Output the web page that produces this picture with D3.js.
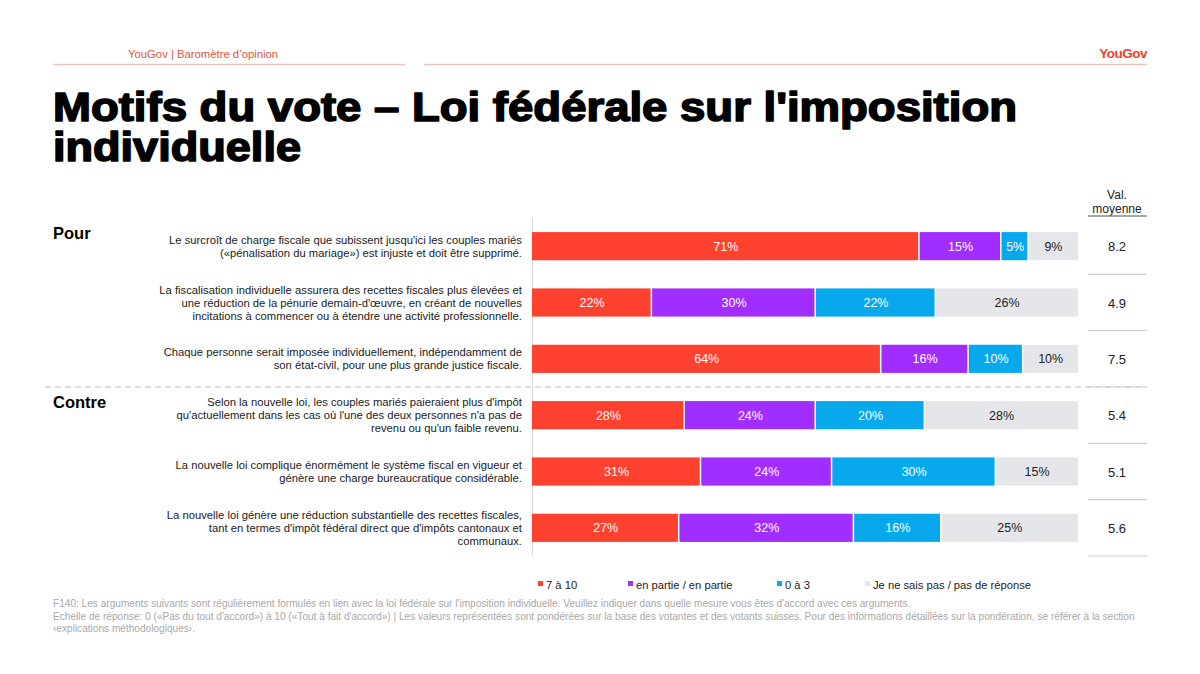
<!DOCTYPE html>
<html>
<head>
<meta charset="utf-8">
<script src="https://cdn.jsdelivr.net/npm/d3@7"></script>
<style>
  body { margin: 0; background: #fff; }
  svg { font-family: Arial, "Liberation Sans", sans-serif; }
</style>
</head>
<body>
<svg id="chart" width="1200" height="674"></svg>
<script>
const categories = [
  ['Le surcroît de charge fiscale que subissent jusqu\'ici les couples mariés', '(«pénalisation du mariage») est injuste et doit être supprimé.'],
  ['La fiscalisation individuelle assurera des recettes fiscales plus élevées et', 'une réduction de la pénurie demain-d\'œuvre, en créant de nouvelles', 'incitations à commencer ou à étendre une activité professionnelle.'],
  ['Chaque personne serait imposée individuellement, indépendamment de', 'son état-civil, pour une plus grande justice fiscale.'],
  ['Selon la nouvelle loi, les couples mariés paieraient plus d\'impôt', 'qu\'actuellement dans les cas où l\'une des deux personnes n\'a pas de', 'revenu ou qu\'un faible revenu.'],
  ['La nouvelle loi complique énormément le système fiscal en vigueur et', 'génère une charge bureaucratique considérable.'],
  ['La nouvelle loi génère une réduction substantielle des recettes fiscales,', 'tant en termes d\'impôt fédéral direct que d\'impôts cantonaux et', 'communaux.']
];
const seriesNames = ['7 à 10', 'en partie / en partie', '0 à 3', 'Je ne sais pas / pas de réponse'];
const agree = [71, 22, 64, 28, 31, 27];
const partly = [15, 30, 16, 24, 24, 32];
const disagree = [5, 22, 10, 20, 30, 16];
const dontKnow = [9, 26, 10, 28, 15, 25];
const meanValues = ['8.2', '4.9', '7.5', '5.4', '5.1', '5.6'];
const groups = ['Pour', 'Contre'];

const COLORS = ['#ff412f', '#a12dff', '#08a8ec', '#e5e6e9'];
const TEXT_COLORS = ['#fff', '#fff', '#fff', '#222'];

const svg = d3.select('#chart');

// header
svg.append('text').attr('x', 128).attr('y', 58).attr('font-size', 11.3)
  .attr('fill', '#e0553f').text('YouGov | Baromètre d\u2019opinion');
svg.append('line').attr('x1', 53).attr('x2', 405).attr('y1', 64.5).attr('y2', 64.5)
  .attr('stroke', '#efc4bc').attr('stroke-width', 1.5);
svg.append('line').attr('x1', 424).attr('x2', 1147).attr('y1', 64.5).attr('y2', 64.5)
  .attr('stroke', '#efc4bc').attr('stroke-width', 1.5);
svg.append('text').attr('x', 1147).attr('y', 58).attr('text-anchor', 'end')
  .attr('font-size', 13.5).attr('font-weight', 'bold').attr('letter-spacing', -0.5)
  .attr('fill', '#f0402a').text('YouGov');

// title (heavy face approximated with stroke + stretched width)
const title = svg.append('text').attr('x', 52).attr('font-size', 40)
  .attr('font-weight', 'bold').attr('fill', '#000')
  .attr('stroke', '#000').attr('stroke-width', 1.6).attr('stroke-linejoin', 'round');
title.append('tspan').attr('x', 53).attr('y', 121)
  .attr('textLength', 964).attr('lengthAdjust', 'spacingAndGlyphs')
  .text('Motifs du vote – Loi fédérale sur l\'imposition');
title.append('tspan').attr('x', 53).attr('y', 161)
  .attr('textLength', 248).attr('lengthAdjust', 'spacingAndGlyphs')
  .text('individuelle');

// scales
const x = d3.scaleLinear().domain([0, 100]).range([532, 1078]);
const y = d3.scaleBand().domain(d3.range(categories.length)).range([218, 556]).paddingInner(0.5).paddingOuter(0.25);

const rows = categories.map((c, i) => {
  const vals = [agree[i], partly[i], disagree[i], dontKnow[i]];
  let acc = 0;
  return vals.map((v, k) => { const s = acc; acc += v; return { row: i, k, v, x0: s, x1: acc }; });
});

// axis line
svg.append('line').attr('x1', 532.5).attr('x2', 532.5).attr('y1', 218).attr('y2', 556)
  .attr('stroke', '#d9d9d9');

// bars
const rowG = svg.selectAll('g.row').data(rows).join('g').attr('class', 'row');
rowG.selectAll('rect').data(d => d).join('rect')
  .attr('x', d => x(d.x0))
  .attr('y', d => y(d.row))
  .attr('width', d => x(d.x1) - x(d.x0) - (d.k < 3 ? 1.5 : 0))
  .attr('height', y.bandwidth())
  .attr('fill', d => COLORS[d.k]);
rowG.selectAll('text').data(d => d).join('text')
  .attr('x', d => (x(d.x0) + x(d.x1)) / 2)
  .attr('y', d => y(d.row) + y.bandwidth() / 2 + 4.5)
  .attr('text-anchor', 'middle').attr('font-size', 12.5)
  .attr('fill', d => TEXT_COLORS[d.k])
  .text(d => d.v + '%');

// category labels
categories.forEach((lines, i) => {
  const cy = y(i) + y.bandwidth() / 2;
  const lh = 13;
  const t = svg.append('text').attr('text-anchor', 'end').attr('font-size', 11.25).attr('fill', '#222');
  lines.forEach((l, j) => {
    t.append('tspan').attr('x', 522)
      .attr('y', cy - (lines.length - 1) * lh / 2 + j * lh + 4).text(l);
  });
});

// group labels
svg.append('text').attr('x', 53).attr('y', 239).attr('font-size', 16.5)
  .attr('font-weight', 'bold').text(groups[0]);
svg.append('text').attr('x', 53).attr('y', 408).attr('font-size', 16.5)
  .attr('font-weight', 'bold').text(groups[1]);

// separator
const sepY = (y(2) + y.bandwidth() + y(3)) / 2;
svg.append('line').attr('x1', 45).attr('x2', 1147).attr('y1', sepY).attr('y2', sepY)
  .attr('stroke', '#bdbdbd').attr('stroke-dasharray', '6,4');

// mean column
svg.append('text').attr('x', 1117).attr('y', 199).attr('text-anchor', 'middle')
  .attr('font-size', 12).attr('fill', '#222').text('Val.');
svg.append('text').attr('x', 1117).attr('y', 213).attr('text-anchor', 'middle')
  .attr('font-size', 12).attr('fill', '#222').text('moyenne');
svg.append('line').attr('x1', 1088).attr('x2', 1147).attr('y1', 216).attr('y2', 216)
  .attr('stroke', '#8a8a8a').attr('stroke-width', 1.5);
const step = y.step();
svg.selectAll('text.mean').data(meanValues).join('text').attr('class', 'mean')
  .attr('x', 1117).attr('y', (d, i) => y(i) + y.bandwidth() / 2 + 5)
  .attr('text-anchor', 'middle').attr('font-size', 13).attr('fill', '#222')
  .text(d => d);
svg.selectAll('line.mean').data(meanValues).join('line').attr('class', 'mean')
  .attr('x1', 1088).attr('x2', 1147)
  .attr('y1', (d, i) => y(i) + y.bandwidth() / 2 + step / 2)
  .attr('y2', (d, i) => y(i) + y.bandwidth() / 2 + step / 2)
  .attr('stroke', '#cfcfcf').attr('stroke-width', 1.2);

// legend
const legendX = [538, 628, 777, 865];
const lg = svg.selectAll('g.legend').data(seriesNames).join('g').attr('class', 'legend')
  .attr('transform', (d, i) => `translate(${legendX[i]},585)`);
lg.append('rect').attr('x', 0).attr('y', -4).attr('width', 5).attr('height', 5)
  .attr('fill', (d, i) => COLORS[i]);
lg.append('text').attr('x', 8).attr('y', 4).attr('font-size', 11.2).attr('fill', '#222').text(d => d);

// footnote
const notes = [
  'F140: Les arguments suivants sont régulièrement formulés en lien avec la loi fédérale sur l\'imposition individuelle. Veuillez indiquer dans quelle mesure vous êtes d\'accord avec ces arguments.',
  'Echelle de réponse: 0 («Pas du tout d\'accord») à 10 («Tout à fait d\'accord») | Les valeurs représentées sont pondérées sur la base des votantes et des votants suisses. Pour des informations détaillées sur la pondération, se référer à la section',
  '‹explications méthodologiques›.'
];
svg.selectAll('text.note').data(notes).join('text').attr('class', 'note')
  .attr('x', 53).attr('y', (d, i) => 607 + i * 12.5)
  .attr('font-size', 10.1).attr('fill', '#a8a8a8').text(d => d);
</script>
</body>
</html>
